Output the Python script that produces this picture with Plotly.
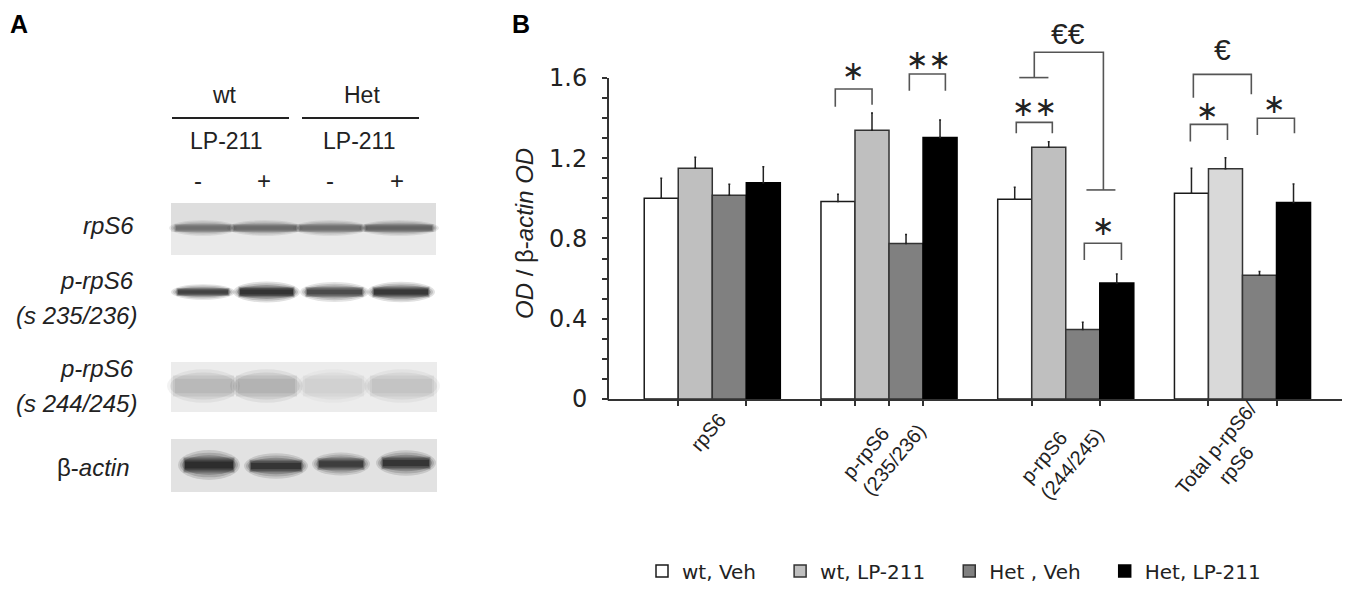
import plotly.graph_objects as go

# ---------------- data ----------------
categories = ["rpS6", "p-rpS6<br>(235/236)", "p-rpS6<br>(244/245)", "Total p-rpS6/<br>rpS6"]
series_names = ["wt, Veh", "wt, LP-211", "Het , Veh", "Het, LP-211"]
wt_veh = [1.00, 0.985, 0.995, 1.025]
wt_veh_err = [0.10, 0.035, 0.06, 0.125]
wt_lp = [1.15, 1.34, 1.255, 1.148]
wt_lp_err = [0.055, 0.085, 0.027, 0.055]
het_veh = [1.015, 0.775, 0.347, 0.617]
het_veh_err = [0.055, 0.045, 0.035, 0.018]
het_lp = [1.078, 1.303, 0.578, 0.979]
het_lp_err = [0.08, 0.088, 0.045, 0.092]
y_ticks = [0, 0.4, 0.8, 1.2, 1.6]
y_tick_text = ["0", "0.4", "0.8", "1.2", "1.6"]

# significance marks: (x_left, x_right, y_top, y_left_bottom, y_right_bottom)
brackets = [
    (0.696, 0.904, 1.545, 1.457, 1.466),
    (1.115, 1.319, 1.620, 1.537, 1.537),
    (1.720, 1.924, 1.379, 1.325, 1.325),
    (2.105, 2.315, 0.776, 0.693, 0.693),
    (2.722, 3.050, 1.618, 1.502, 1.519),
    (2.705, 2.915, 1.369, 1.283, 1.291),
    (3.084, 3.294, 1.399, 1.316, 1.324),
]
euro2_lines = [
    [(1.737, 1.602), (1.902, 1.602)],
    [(1.822, 1.602), (1.822, 1.728), (2.213, 1.728), (2.213, 1.042)],
    [(2.117, 1.042), (2.281, 1.042)],
]
sig_labels = [("∗", 0.800, 1.637), ("∗∗", 1.222, 1.69), ("∗∗", 1.822, 1.456),
              ("∗", 2.213, 0.867), ("€", 2.886, 1.74), ("∗", 2.801, 1.44),
              ("∗", 3.181, 1.474), ("€€", 2.015, 1.82)]

# ---------------- layout constants ----------------
OFF = 8                      # default page margin of the html body
W, H = 1350 - OFF, 590 - OFF
FONT = "Liberation Sans, Arial, sans-serif"
WIDE = "DejaVu Sans, sans-serif"
BARGAP = 0.23
BW = (1 - BARGAP) / 4
X_RANGE = [-0.59, 3.58]
Y_MAX = 1.899


def PX(px):
    return (px - OFF) / W


def PY(py):
    return 1 - (py - OFF) / H


XDOM = [PX(608), PX(1345)]
YDOM = [PY(399), PY(18)]


def yval_to_paper(v):
    return YDOM[0] + v / Y_MAX * (YDOM[1] - YDOM[0])


fig = go.Figure()

x_idx = list(range(len(categories)))
series = [
    (wt_veh, wt_veh_err, "#ffffff", "#1a1a1a"),
    (wt_lp, wt_lp_err, ["#bfbfbf", "#bfbfbf", "#bfbfbf", "#d9d9d9"], "#333333"),
    (het_veh, het_veh_err, "#808080", "#333333"),
    (het_lp, het_lp_err, "#000000", "#000000"),
]
for name, (vals, errs, col, lcol) in zip(series_names, series):
    fig.add_trace(go.Bar(
        x=x_idx, y=vals, name=name + "\u00a0\u00a0\u00a0",
        marker=dict(color=col, line=dict(color=lcol, width=1.5)),
        error_y=dict(type="data", symmetric=False, array=errs,
                     arrayminus=[0] * len(errs), color="#222222",
                     thickness=1.5, width=1),
    ))

shapes = []
LC = "#555555"
for xl, xr, yt, ylb, yrb in brackets:
    shapes.append(dict(type="path", xref="x", yref="y",
                       path=f"M{xl},{ylb} L{xl},{yt} L{xr},{yt} L{xr},{yrb}",
                       line=dict(color=LC, width=1.6)))
for seg in euro2_lines:
    p = "M" + " L".join(f"{a},{b}" for a, b in seg)
    shapes.append(dict(type="path", xref="x", yref="y", path=p,
                       line=dict(color=LC, width=1.6)))
# y axis line (only up to 1.6)
shapes.append(dict(type="line", xref="paper", yref="paper",
                   x0=XDOM[0], x1=XDOM[0], y0=yval_to_paper(0) - 0.002,
                   y1=yval_to_paper(1.6), line=dict(color="#333333", width=2)))


# ---------------- panel A (western blot sketch) ----------------
def rect(x0, x1, y0, y1, color, op=1.0, kind="rect"):
    shapes.append(dict(type=kind, xref="paper", yref="paper",
                       x0=PX(x0), x1=PX(x1), y0=PY(y1), y1=PY(y0),
                       fillcolor=color, opacity=op, line=dict(width=0), layer="above"))


SHARP = [(7, 2.3, 0.12, "circle"), (5, 1.9, 0.15, "circle"), (3, 1.5, 0.2, "circle"),
         (1.5, 1.15, 0.25, "rect"), (0.5, 0.85, 0.3, "rect"), (0, 0.55, 0.35, "rect")]
SOFT = [(9, 1.05, 0.08, "circle"), (6, 0.85, 0.1, "circle"), (3, 0.65, 0.1, "rect"),
        (1, 0.45, 0.1, "rect")]


def band(x0, x1, yc, h, color, layers=SHARP):
    for gx, gy, op, kind in layers:
        rect(x0 - gx, x1 + gx, yc - h * gy, yc + h * gy, color, op, kind)


# strip backgrounds
rect(171, 436, 203, 232, "#dedede")
rect(171, 436, 232, 255, "#eaeaea")
rect(171, 437, 362, 412, "#ececec")
rect(171, 437, 439, 492, "#e2e2e2")

lanes_rps6 = [(176, 230), (234, 296), (300, 361), (366, 432)]
for (a, b), g in zip(lanes_rps6, ["#555555", "#4e4e4e", "#525252", "#444444"]):
    band(a, b, 228, 3.4, g)

lanes_p235 = [(178, 228), (240, 293), (307, 362), (374, 428)]
for (a, b), h, g in zip(lanes_p235, [3.4, 4.6, 4.3, 4.5],
                        ["#141414", "#000000", "#1e1e1e", "#050505"]):
    band(a, b, 292, h, g)

lanes_p244 = [(176, 231), (239, 294), (306, 361), (373, 431)]
for (a, b), g in zip(lanes_p244, ["#555555", "#444444", "#a0a0a0", "#777777"]):
    band(a, b, 386, 16, g, SOFT)

lanes_actin = [(185, 233), (251, 301), (319, 363), (383, 429)]
for (a, b), yc, h, g in zip(lanes_actin, [465, 466, 464, 463], [6.5, 5.5, 5.0, 5.5],
                            ["#000000", "#0a0a0a", "#141414", "#0a0a0a"]):
    band(a, b, yc, h, g)

# header lines
for a, b in [(172, 289), (302, 419)]:
    shapes.append(dict(type="line", xref="paper", yref="paper",
                       x0=PX(a), x1=PX(b), y0=PY(118), y1=PY(118),
                       line=dict(color="#222222", width=2)))

annotations = []


def txt(s, px, py, size, xanchor="center", yanchor="middle", bold=False, italic=False,
        family=FONT, color="#222222"):
    t = s
    if italic:
        t = "<i>" + t + "</i>"
    if bold:
        t = "<b>" + t + "</b>"
    annotations.append(dict(text=t, x=PX(px), y=PY(py), xref="paper", yref="paper",
                            xanchor=xanchor, yanchor=yanchor, showarrow=False,
                            borderpad=0,
                            font=dict(family=family, size=size, color=color)))


txt("A", 19, 9, 25, yanchor="top", bold=True, color="#000000")
txt("B", 521, 9, 25, yanchor="top", bold=True, color="#000000")
txt("wt", 224, 95, 23)
txt("Het", 362, 95, 23)
txt("LP-211", 226, 141, 23)
txt("LP-211", 359, 141, 23)
for px, s in zip([198, 264, 330, 397], ["-", "+", "-", "+"]):
    txt(s, px, 180, 24)
txt("rpS6", 135, 225, 24, xanchor="right", italic=True)
txt("p-rpS6", 135, 280, 24, xanchor="right", italic=True)
txt("(s 235/236)", 138, 315, 24, xanchor="right", italic=True)
txt("p-rpS6", 135, 368, 24, xanchor="right", italic=True)
txt("(s 244/245)", 138, 403, 24, xanchor="right", italic=True)
txt("β-<i>actin</i>", 131, 467, 24, xanchor="right")

# y-axis title
annotations.append(dict(text="<i>OD</i> / β-<i>actin OD</i>", x=PX(525), y=PY(234),
                        xref="paper", yref="paper", textangle=-90, showarrow=False,
                        xanchor="center", yanchor="middle",
                        font=dict(family=FONT, size=24, color="#222222")))

# category labels (rotated)
label_dx = [-0.023, -0.027, -0.019, -0.091]
label_py = [432, 451, 455, 456]
label_align = ["center", "left", "left", "center"]
for i, cat in enumerate(categories):
    annotations.append(dict(text=cat, x=i + label_dx[i], y=PY(label_py[i]),
                            xref="x", yref="paper", textangle=-50, showarrow=False,
                            xanchor="center", yanchor="middle", align=label_align[i],
                            font=dict(family=FONT, size=20, color="#222222")))

# significance labels
for s, xv, yv in sig_labels:
    star = "∗" in s
    annotations.append(dict(text=s, x=xv, y=yv, xref="x", yref="y", showarrow=False,
                            xanchor="center", yanchor="middle",
                            font=dict(family=WIDE if star else FONT,
                                      size=27 if star else 30, color="#222222")))

# decorative x ticks at bar boundaries
x_tickvals = []
for g in x_idx:
    x_tickvals += [g - BW, g + BW]
x_tickvals += [1 - 2 * BW, 1.0]
x_tickvals = sorted(x_tickvals)

fig.update_layout(
    width=W, height=H,
    margin=dict(l=0, r=0, t=0, b=0, autoexpand=False),
    paper_bgcolor="white", plot_bgcolor="white",
    barmode="group", bargap=BARGAP, bargroupgap=0,
    font=dict(family=FONT, color="#222222"),
    xaxis=dict(domain=XDOM, range=X_RANGE, showgrid=False, zeroline=False,
               showline=True, linecolor="#333333", linewidth=2,
               tickmode="array", tickvals=x_tickvals, ticktext=[""] * len(x_tickvals),
               ticks="outside", ticklen=5, tickcolor="#333333", tickwidth=1.5,
               fixedrange=True),
    yaxis=dict(domain=YDOM, range=[0, Y_MAX], showgrid=False, zeroline=False,
               showline=False, tickmode="array", tickvals=y_ticks, ticktext=y_tick_text,
               ticks="outside", ticklen=5, tickcolor="#333333", tickwidth=1.5,
               ticklabelstandoff=10,
               tickfont=dict(family=WIDE, size=24, color="#222222"),
               minor=dict(tickvals=[round(0.1 * k, 1) for k in range(1, 16)],
                          ticks="outside", ticklen=5, tickcolor="#333333", tickwidth=1.5),
               fixedrange=True),
    legend=dict(orientation="h", x=PX(642), y=PY(571), xanchor="left", yanchor="middle",
                font=dict(family=WIDE, size=20, color="#222222"),
                bgcolor="rgba(0,0,0,0)", traceorder="normal"),
    shapes=shapes,
    annotations=annotations,
)

fig.write_html("out.html")
